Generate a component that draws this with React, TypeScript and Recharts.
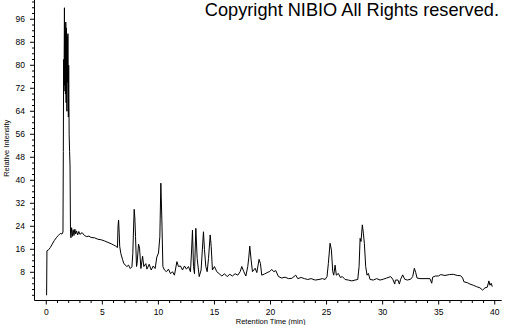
import React from 'react';
import { LineChart, Line, XAxis, YAxis } from 'recharts';

const retentionTime = [
  0.03, 0.06, 0.2, 0.36, 0.53, 0.71, 0.89, 1.07, 1.25, 1.4, 1.49, 1.52, 1.55, 1.58, 1.62, 1.65, 1.68, 1.71, 1.74, 1.77,
  1.8, 1.84, 1.87, 1.9, 1.93, 1.97, 2.0, 2.04, 2.08, 2.12, 2.16, 2.2, 2.26, 2.33, 2.4, 2.47, 2.55, 2.62, 2.7, 2.8,
  2.9, 3.0, 3.2, 3.4, 3.6, 3.8, 4.0, 4.3, 4.6, 4.9, 5.2, 5.5, 5.8, 6.0, 6.2, 6.35, 6.4, 6.45, 6.5, 6.55,
  6.65, 6.8, 6.9, 7.04, 7.19, 7.34, 7.49, 7.64, 7.72, 7.78, 7.84, 7.9, 7.96, 8.05, 8.1, 8.23, 8.32, 8.44, 8.59, 8.7,
  8.88, 8.98, 9.18, 9.36, 9.54, 9.71, 9.86, 10.01, 10.13, 10.22, 10.31, 10.4, 10.54, 10.72, 10.9, 11.08, 11.26, 11.43, 11.65, 11.79,
  11.97, 12.15, 12.33, 12.5, 12.68, 12.86, 12.95, 13.04, 13.13, 13.22, 13.34, 13.46, 13.64, 13.81, 14.02, 14.11, 14.23, 14.35, 14.47, 14.62,
  14.71, 14.82, 15.0, 15.21, 15.42, 15.66, 15.9, 16.13, 16.37, 16.6, 16.84, 17.08, 17.29, 17.44, 17.62, 17.8, 17.97, 18.06, 18.15, 18.27,
  18.39, 18.63, 18.78, 18.98, 19.1, 19.22, 19.46, 19.7, 19.94, 20.11, 20.29, 20.47, 20.71, 21.0, 21.3, 21.6, 21.9, 22.25, 22.43, 22.73,
  23.02, 23.32, 23.62, 23.98, 24.33, 24.63, 24.87, 25.04, 25.16, 25.31, 25.43, 25.55, 25.64, 25.76, 25.87, 26.05, 26.23, 26.41, 26.65, 26.94,
  27.25, 27.54, 27.78, 27.9, 27.99, 28.07, 28.19, 28.28, 28.37, 28.49, 28.61, 28.73, 28.88, 29.17, 29.47, 29.77, 30.06, 30.36, 30.72, 30.9,
  31.08, 31.14, 31.37, 31.49, 31.61, 31.79, 31.97, 32.2, 32.5, 32.68, 32.83, 32.95, 33.07, 33.33, 33.78, 34.22, 34.38, 34.46, 34.7, 34.97,
  35.18, 35.56, 35.95, 36.3, 36.66, 36.96, 37.14, 37.25, 37.55, 37.79, 38.08, 38.38, 38.68, 38.92, 39.13, 39.33, 39.48, 39.57, 39.68, 39.78,
];

const relativeIntensity = [
  0, 15.5, 15.8, 16.6, 17.8, 19, 20, 20.8, 21.5, 21.3, 22, 50, 82, 71, 100, 73, 92, 70, 95, 67,
  93, 64, 90, 74, 91, 62, 80, 56, 50, 45, 22, 20, 23.5, 20.5, 22.8, 20.8, 23, 21.3, 22.4, 21,
  22.2, 21.2, 21.8, 20.8, 20.4, 20.6, 20.1, 20, 19.5, 19.3, 18.9, 18.4, 17.9, 17.5, 17.1, 16.6, 24, 26.2, 22, 17,
  14.5, 12.5, 11.2, 10.5, 10, 10.5, 9.3, 9.9, 14.6, 22.7, 29.9, 26.9, 20.4, 10, 11, 17.8, 16.4, 9.3, 13.6, 10,
  11, 9.1, 10.8, 8.8, 10.2, 9.3, 13.3, 14.7, 20.4, 39, 26.2, 10, 8.8, 8.2, 9.1, 7.5, 8.2, 7, 11.7, 10,
  10.2, 8.8, 10.2, 9.1, 10, 8.2, 14.7, 22.7, 10, 7.5, 23.3, 12.8, 6.5, 8.8, 22.1, 15.9, 10, 8.2, 12.8, 21,
  17, 8.8, 10, 8.2, 7.5, 6.7, 7.5, 6.5, 7.3, 6.7, 7.5, 7, 8.2, 10, 8.2, 6.7, 10, 13, 17.1, 12.3,
  8.2, 9.4, 7.9, 12.5, 11.1, 7, 7.4, 7.9, 8.3, 9, 8.2, 8.6, 6.5, 6, 6.3, 5.8, 5.9, 7, 5.8, 6.2,
  5.8, 5.5, 5.8, 5.3, 5.5, 5.8, 5.5, 6.5, 11.1, 18.1, 15.8, 8.2, 7, 10.5, 7, 7.6, 6.2, 6.5, 5.5, 5.3,
  5, 5.3, 5.5, 10, 19.8, 18.7, 24.5, 21.6, 18.1, 10, 7, 7.6, 5.5, 5.3, 5.8, 5.3, 5.6, 6, 6.5, 5.6,
  3.9, 5.3, 5.3, 3.9, 5.6, 7.1, 5.6, 5.3, 5.6, 6.5, 9.4, 7.9, 6, 5.8, 5.8, 5.8, 4.2, 6.3, 6.7, 6.7,
  7.2, 6.9, 7.2, 7.3, 6.9, 6.8, 6, 4.7, 4.4, 3.9, 3.5, 3, 2.6, 1.8, 2.6, 2.8, 5, 3.5, 4.2, 3,
];

const xTicks = Array.from({ length: 41 }, (_, i) => i);
const xLabelStep = 5;
const yTicks = Array.from({ length: 52 }, (_, i) => i * 2);
const yLabelStep = 8;
const yLabelMax = 96;

const xAxisTitle = 'Retention Time (min)';
const yAxisTitle = 'Relative Intensity';
const copyright = 'Copyright NIBIO All Rights reserved.';

const data = retentionTime.map((t, i) => ({ t, v: relativeIntensity[i] }));

const FONT = '"Liberation Sans", Arial, sans-serif';

const XTick = (props: any) => {
  const { x, y, payload } = props;
  const v = payload.value;
  const major = v % xLabelStep === 0;
  return (
    <g>
      <line x1={x} x2={x} y1={y} y2={y + (major ? 4 : 2.5)} stroke="#000" strokeWidth={1} />
      {major && (
        <text x={x} y={y + 14.5} textAnchor="middle" fontSize={8.5} fontFamily={FONT} fill="#000">
          {v}
        </text>
      )}
    </g>
  );
};

const YTick = (props: any) => {
  const { x, y, payload } = props;
  const v = payload.value;
  const major = v > 0 && v <= yLabelMax && v % yLabelStep === 0;
  return (
    <g>
      <line x1={x - (major ? 4.5 : 2.5)} x2={x} y1={y} y2={y} stroke="#000" strokeWidth={1} />
      {major && (
        <text x={x - 9.5} y={y + 3} textAnchor="end" fontSize={8.5} fontFamily={FONT} fill="#000">
          {v}
        </text>
      )}
    </g>
  );
};

export default function App() {
  return (
    <div style={{ position: 'absolute', left: 0, top: 0, width: 505, height: 325, background: '#fff' }}>
      <LineChart width={505} height={325} data={data} margin={{ top: 0, right: 3.3, bottom: 0, left: 0 }}>
        <XAxis
          dataKey="t"
          type="number"
          domain={[-1.05, 40.62]}
          ticks={xTicks}
          interval={0}
          allowDataOverflow
          height={24.5}
          tickSize={0}
          tickMargin={0}
          tickLine={false}
          axisLine={{ stroke: '#000', strokeWidth: 1 }}
          tick={<XTick />}
          label={{
            content: (p: any) => {
              const vb = p.viewBox || { x: 34.5, y: 300.5, width: 467, height: 24.5 };
              return (
                <text x={vb.x + vb.width / 2 + 2.5} y={vb.y + 23} textAnchor="middle" fontSize={7.5} fontFamily={FONT} fill="#000">
                  {xAxisTitle}
                </text>
              );
            },
          }}
        />
        <YAxis
          type="number"
          domain={[-1.81, 102.7]}
          ticks={yTicks}
          interval={0}
          allowDataOverflow
          width={34.5}
          tickSize={0}
          tickMargin={0}
          tickLine={false}
          axisLine={{ stroke: '#000', strokeWidth: 1 }}
          tick={<YTick />}
          label={{
            content: (p: any) => {
              const vb = p.viewBox || { x: 0, y: 0, width: 34.5, height: 300.5 };
              const cx = vb.x + 6.5;
              const cy = vb.y + vb.height / 2 - 2;
              return (
                <text x={cx} y={cy} transform={`rotate(-90 ${cx} ${cy})`} textAnchor="middle" dominantBaseline="central" fontSize={7.5} fontFamily={FONT} fill="#000">
                  {yAxisTitle}
                </text>
              );
            },
          }}
        />
        <Line type="linear" dataKey="v" stroke="#000" strokeWidth={1} dot={false} isAnimationActive={false} />
      </LineChart>
      <div
        style={{
          position: 'absolute',
          right: 6,
          top: 0,
          fontFamily: FONT,
          fontSize: 18.2,
          lineHeight: '20px',
          color: '#000',
          whiteSpace: 'nowrap',
        }}
      >
        {copyright}
      </div>
    </div>
  );
}
